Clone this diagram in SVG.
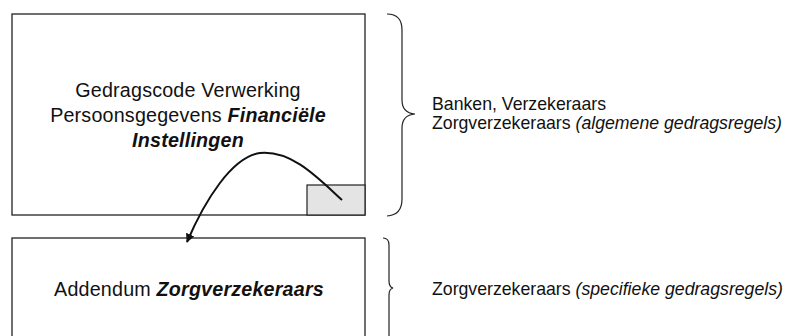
<svg xmlns="http://www.w3.org/2000/svg" width="788" height="336" viewBox="0 0 788 336">
<style>
.box{fill:#fff;stroke:#222;stroke-width:1.3}
.brace{fill:none;stroke:#222;stroke-width:1.2}
.t{font-family:"Liberation Sans",Arial,sans-serif;fill:#111}
.big{font-size:19.7px;letter-spacing:0.2px}
.side{font-size:17.7px}
.bi{font-weight:bold;font-style:italic}
.i{font-style:italic}
</style>
<defs>
<marker id="ah" viewBox="0 0 10 10" refX="9" refY="5" markerWidth="9" markerHeight="9" markerUnits="userSpaceOnUse" orient="auto">
<path d="M0,0 L10,5 L0,10 z" fill="#111"/>
</marker>
</defs>
<g id="node-gedragscode">
<rect class="box" x="12" y="14" width="353" height="201"/>
<rect x="307" y="185" width="58" height="30" fill="#e4e4e4" stroke="#222" stroke-width="1.2"/>
<text class="t big" x="188" y="97" text-anchor="middle">Gedragscode Verwerking</text>
<text class="t big" x="188" y="122" text-anchor="middle">Persoonsgegevens <tspan class="bi">Financiële</tspan></text>
<text class="t big bi" x="188" y="147" text-anchor="middle">Instellingen</text>
</g>
<g id="node-addendum">
<rect class="box" x="12" y="238" width="353" height="110"/>
<text class="t big" x="189" y="296" text-anchor="middle">Addendum <tspan class="bi">Zorgverzekeraars</tspan></text>
</g>
<g id="brace-top">
<path class="brace" d="M387,14 Q402,14 402,30 L402,100 Q402,113 415,114 Q402,115 402,128 L402,199 Q402,215 387,216"/>
<text class="t side" x="432" y="110">Banken, Verzekeraars</text>
<text class="t side" x="432" y="129">Zorgverzekeraars <tspan class="i">(algemene gedragsregels)</tspan></text>
</g>
<g id="brace-bottom">
<path class="brace" d="M383,238 Q389,238 389,245 L389,281 Q389,287 393,288 Q389,289 389,295 L389,336"/>
<text class="t side" x="432" y="295">Zorgverzekeraars <tspan class="i">(specifieke gedragsregels)</tspan></text>
</g>
<g id="connectors">
<path d="M342,200 C318,178 292,150 260,153 C232,157 205,200 187,242" fill="none" stroke="#111" stroke-width="2" marker-end="url(#ah)"/>
</g>
</svg>
